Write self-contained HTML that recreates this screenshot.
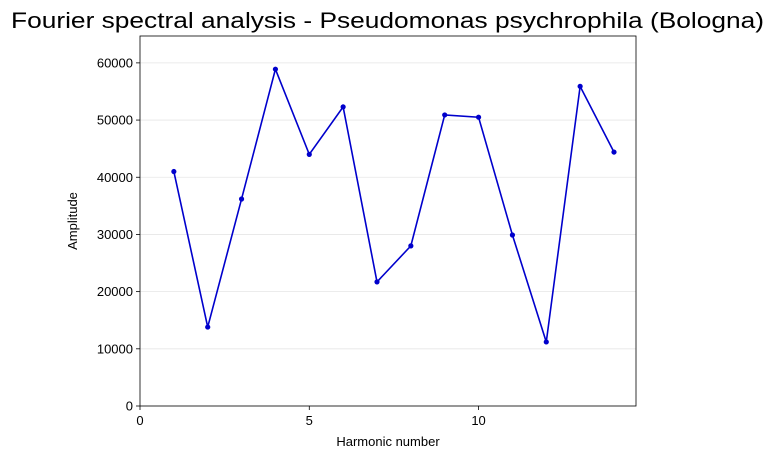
<!DOCTYPE html>
<html><head><meta charset="utf-8"><style>
body{margin:0;background:#fff;}
svg text{font-family:"Liberation Sans","DejaVu Sans",sans-serif;fill:#000;}
</style></head><body>
<svg id="chart" width="775" height="459" xmlns="http://www.w3.org/2000/svg"></svg>
<script>
const harmonics = [1,2,3,4,5,6,7,8,9,10,11,12,13,14];
const amplitudes = [41000,13800,36200,58900,44000,52300,21700,28000,50900,50500,29900,11200,55900,44400];
const xTicks = [0,5,10];
const yTicks = [0,10000,20000,30000,40000,50000,60000];
const L=140,R=636,T=36,B=406;
const xMin=0,xMax=14.65,yMin=0,yMax=64700;
const sx=v=>L+(v-xMin)/(xMax-xMin)*(R-L);
const sy=v=>B-(v-yMin)/(yMax-yMin)*(B-T);
const svg=document.getElementById('chart');
const NS='http://www.w3.org/2000/svg';
function mk(tag,attrs,parent){const e=document.createElementNS(NS,tag);for(const k in attrs)e.setAttribute(k,attrs[k]);(parent||svg).appendChild(e);return e;}
const title=mk('text',{x:11,y:28,'font-size':22.5,textLength:753,lengthAdjust:'spacingAndGlyphs'});
title.textContent='Fourier spectral analysis - Pseudomonas psychrophila (Bologna)';


yTicks.forEach(t=>{
  const g=mk('line',{x1:L,x2:R,y1:sy(t),y2:sy(t),stroke:'#e6e6e6','stroke-width':0.8});
  
  
  const tk=mk('line',{x1:L-4,x2:L,y1:sy(t),y2:sy(t),stroke:'#000','stroke-width':0.8});
  
  
  const lb=mk('text',{x:L-7,y:sy(t)+4.5,'text-anchor':'end','font-size':13});
  lb.textContent=t;
  
  
});
xTicks.forEach(t=>{
  const tk=mk('line',{x1:sx(t),x2:sx(t),y1:B,y2:B+4,stroke:'#000','stroke-width':0.8});
  
  
  const lb=mk('text',{x:sx(t),y:B+19,'text-anchor':'middle','font-size':13});
  lb.textContent=t;
  
  
});
const frame=mk('rect',{x:L,y:T,width:R-L,height:B-T,fill:'none',stroke:'#000','stroke-width':0.8});


const line=mk('polyline',{points:harmonics.map((h,i)=>sx(h)+','+sy(amplitudes[i])).join(' '),fill:'none',stroke:'#0000cc','stroke-width':1.6});


harmonics.forEach((h,i)=>{
  const c=mk('circle',{cx:sx(h),cy:sy(amplitudes[i]),r:2.6,fill:'#0000cc'});
  
  
});
const xl=mk('text',{x:(L+R)/2,y:446,'text-anchor':'middle','font-size':13});
xl.textContent='Harmonic number';


const yl=mk('text',{x:77,y:(T+B)/2,'text-anchor':'middle','font-size':13,transform:'rotate(-90 77 '+(T+B)/2+')'});
yl.textContent='Amplitude';


</script>
</body></html>
